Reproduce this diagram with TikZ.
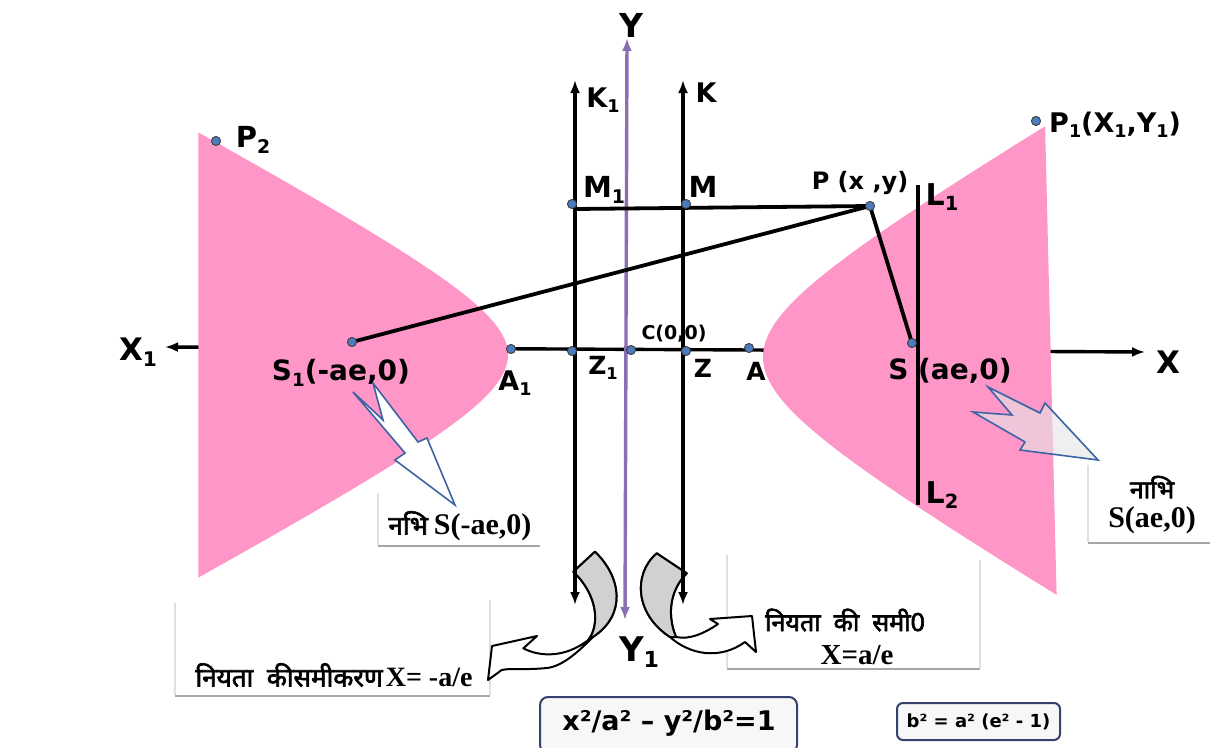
\documentclass[tikz,border=0pt]{standalone}
\usepackage{fontspec}
\setmainfont{DejaVu Sans}
\newfontfamily\devf[Script=Devanagari,FakeBold=2.5]{Noto Sans}
\newfontfamily\serf{Liberation Serif}
\usetikzlibrary{arrows.meta}
\definecolor{pinkfill}{RGB}{255,150,200}
\definecolor{purpax}{RGB}{140,110,180}
\definecolor{dotblue}{RGB}{75,125,190}
\definecolor{navyb}{RGB}{55,65,110}
\definecolor{arrowblue}{RGB}{60,100,165}
\newcommand\sbs[1]{\raisebox{-0.35ex}{\scalebox{0.65}{#1}}}
\newcommand\fs[1]{\fontsize{#1}{#1}\selectfont}
\begin{document}
\begin{tikzpicture}[x=1pt,y=-1pt,
  ln/.style={line width=3.8pt,black},
  axarrow/.style={line width=3.4pt,{Latex[length=13pt,width=10pt]}-{Latex[length=13pt,width=10pt]}},
  dot/.style={circle,fill=dotblue,draw=black!75,line width=0.8pt,inner sep=0pt,minimum size=9pt},
  lab/.style={inner sep=0pt,font=\bfseries\fs{#1}},
  lab/.default=22,
  frameL/.style={draw=black!12,line width=1.2pt},
  frameB/.style={draw=black!35,line width=2.2pt},
  devlab/.style={inner sep=0pt,align=center},
  eqbox/.style={draw=navyb,line width=2pt,rounded corners=8pt,fill=black!3,inner sep=0pt},
  curv/.style={draw=black,line width=2pt,line join=round},
  blk/.style={draw=arrowblue,line width=1.6pt,line join=miter}
]
\useasboundingbox (0,0) rectangle (1210,747);
\fill[white] (0,0) rectangle (1210,747);

% X axis (behind the branches)
\coordinate (Xl) at (165,347);
\coordinate (Xr) at (1145,352);
\draw[axarrow] (Xl) -- (Xr);

% hyperbola branches
\fill[pinkfill] plot[domain=-1.93:1.93,samples=80,variable=\t] ({631-123*cosh(\t)},{355+66*sinh(\t)}) -- cycle;
\fill[pinkfill] plot[domain=-1.81:1.84,samples=80,variable=\t] ({631+132*cosh(\t)},{357+77.6*sinh(\t)}) -- cycle;

% label frames
\draw[frameL] (378,493) -- (378,545);
\draw[frameB] (378,546) -- (540,546);
\draw[frameL] (175,603) -- (175,695);
\draw[frameL] (490,600) -- (490,695);
\draw[frameB] (175,696) -- (490,696);
\draw[frameL] (727,555) -- (727,668);
\draw[frameL] (980,560) -- (980,668);
\draw[frameB] (727,669) -- (980,669);
\draw[frameL] (1088,465) -- (1088,542);
\draw[frameB] (1088,543) -- (1210,543);

% block arrows
\draw[blk,fill=white] (353,392) -- (383,420) -- (373,383) -- (418,442) -- (427,438) -- (455,505) -- (395,460) -- (405,453) -- cycle;
\draw[blk,fill=black!10,fill opacity=0.6] (988,387) -- (1040,413) -- (1045,403) -- (1098,460) -- (1020,450) -- (1025,442) -- (973,412) -- (1012,415) -- cycle;

% curved arrows
\draw[curv,fill=white] (573.3,571.7) -- (595,551.7) .. controls (622,578) and (626,615) .. (593.3,636.7)
  .. controls (575,655) and (560,668) .. (543.3,668.3) .. controls (525,670) and (510,668) .. (501.7,670)
  -- (488,680) -- (492,646) -- (537,636) -- (523.3,648.3)
  .. controls (540,657) and (565,658) .. (588.3,640) .. controls (600,625) and (598,595) .. (573.3,571.7) -- cycle;
\draw[curv,fill=black!18] (573.3,571.7) -- (595,551.7) .. controls (622,578) and (626,615) .. (593.3,636.7)
  -- (588.3,640) .. controls (600,625) and (598,595) .. (573.3,571.7) -- cycle;
\draw[curv,fill=white] (656.7,553.3) -- (686.7,573.3) .. controls (668,592) and (668,618) .. (676,637)
  .. controls (690,640) and (705,633) .. (718,624) -- (710,619) -- (752,616) -- (756,652) -- (745,642)
  .. controls (720,660) and (690,655) .. (670,637) .. controls (636,615) and (632,575) .. (656.7,553.3) -- cycle;
\draw[curv,fill=black!18] (656.7,553.3) -- (686.7,573.3) .. controls (668,592) and (668,618) .. (676,637)
  -- (670,637) .. controls (636,615) and (632,575) .. (656.7,553.3) -- cycle;

% directrices and Y axis
\coordinate (K1t) at (575,80);  \coordinate (K1b) at (575,605);
\coordinate (Kt) at (683,80);   \coordinate (Kb) at (683,605);
\coordinate (Yt) at (627,38);   \coordinate (Yb) at (625,620);
\draw[axarrow] (K1b) -- (K1t);
\draw[axarrow] (Kb) -- (Kt);
\draw[axarrow,draw=purpax,fill=purpax] (Yb) -- (Yt);

% points
\node[dot] (M1) at (572,204) {};
\node[dot] (M) at (686,204) {};
\node[dot] (P) at (870,206) {};
\node[dot] (S) at (912,343) {};
\node[dot] (S1) at (352,342) {};
\node[dot] (A1) at (511,349) {};
\node[dot] (Z1) at (572,351) {};
\node[dot] (C) at (631,350) {};
\node[dot] (Z) at (686,351) {};
\node[dot] (A) at (749,348) {};
\node[dot] (P2) at (216,141) {};
\node[dot] (P1) at (1036,121) {};
\coordinate (L1t) at (918,185);
\coordinate (L2b) at (918,505);

\draw[ln] (M1.center) ++(3,5) -- (P.center);
\draw[ln] (S1.center) -- (P.center);
\draw[ln] (P.center) -- (S.center);
\draw[ln] (L1t) -- (L2b);
\foreach \n in {M1,M,P,S,S1,A1,Z1,C,Z,A,P2,P1} \node[dot] at (\n) {};

% labels
\node[lab=31] (lX1) at (138,352) {X\sbs{1}};
\node[lab=31] (lX) at (1168,362) {X};
\node[lab=33] (lY) at (631,25) {Y};
\node[lab=34] (lY1) at (639,652) {Y\sbs{1}};
\node[lab=27] (lK1) at (603,100) {K\sbs{1}};
\node[lab=27] (lK) at (706,93) {K};
\node[lab=29] (lM1) at (604,190) {M\sbs{1}};
\node[lab=29] (lM) at (703,187) {M};
\node[lab=24] (lP) at (860,183) {P (x ,y)};
\node[lab=30] (lL1) at (942,197) {L\sbs{1}};
\node[lab=30] (lL2) at (942,495) {L\sbs{2}};
\node[lab=19] (lC) at (674,334) {C(0,0)};
\node[lab=25] (lZ1) at (603,368) {Z\sbs{1}};
\node[lab=25] (lZ) at (703,368) {Z};
\node[lab=25] (lA) at (756,371) {A};
\node[lab=27] (lA1) at (515,383) {A\sbs{1}};
\node[lab=28] (lS1) at (341,373) {S\sbs{1}(-ae,0)};
\node[lab=28] (lS) at (950,371) {S (ae,0)};
\node[lab=29] (lP2) at (253,140) {P\sbs{2}};
\node[lab=27,anchor=west] (lP1) at (1049,125) {P\sbs{1}(X\sbs{1},Y\sbs{1})};

% Hindi labels
\node[devlab] (t1) at (460,526) {{\devf\fs{26}नभि}\hspace{6pt}{\serf\bfseries\fs{30}S(-ae,0)}};
\node[devlab] (t2) at (334,675) {{\devf\fs{26}नियता~~कीसमीकरण}\hspace{3pt}{\serf\bfseries\fs{28}X= -a/e}};
\node[devlab] (t3) at (845,620) {\devf\fs{25}नियता~ की~ समी0};
\node[devlab] (t4) at (857,655) {\serf\bfseries\fs{29}X=a/e};
\node[devlab] (t5) at (1152,487) {\devf\fs{25}नाभि};
\node[devlab] (t6) at (1152,520) {\serf\bfseries\fs{30}S(ae,0)};

% equations
\node[eqbox,minimum width=257pt,minimum height=56pt] (eq1) at (668.5,725) {};
\node[font=\bfseries\fs{27}] at (669,723) {x²/a² – y²/b²=1};
\node[eqbox,minimum width=163pt,minimum height=37pt,rounded corners=6pt] (eq2) at (978.5,721.5) {\bfseries\fs{18}b² = a² (e² - 1)};
\end{tikzpicture}
\end{document}
